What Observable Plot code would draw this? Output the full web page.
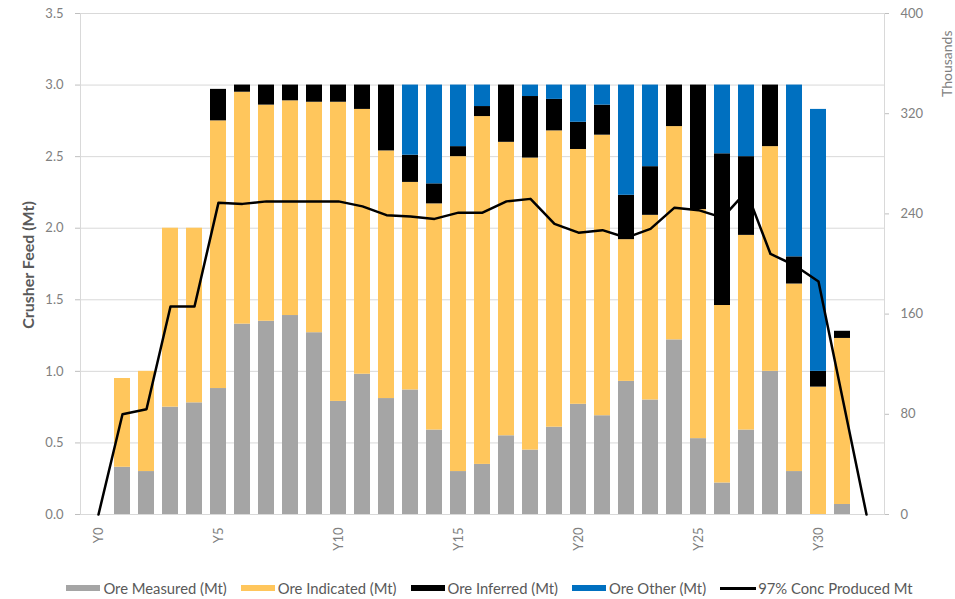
<!DOCTYPE html>
<html>
<head>
<meta charset="utf-8">
<script src="https://cdn.jsdelivr.net/npm/d3@7"></script>
<script src="https://cdn.jsdelivr.net/npm/@observablehq/plot@0.6"></script>
<style>
  body { margin: 0; background: #fff; font-family: Lato, "Open Sans", sans-serif; }
  #legend { display: flex; justify-content: center; align-items: center; height: 16px; margin-top: 20px; padding-left: 24px; font-size: 14.8px; color: #595959; }
  .item { display: flex; align-items: center; margin: 0 7px; white-space: nowrap; }
  .sw { width: 34px; height: 6px; margin-right: 3px; }
  .ln { width: 36px; height: 3px; background: #000; margin-right: 2px; }
</style>
</head>
<body>
<div id="chart"></div>
<div id="legend"></div>
<script>
// Years on the x axis (Y0 .. Y32)
const years = [0,1,2,3,4,5,6,7,8,9,10,11,12,13,14,15,16,17,18,19,20,21,22,23,24,25,26,27,28,29,30,31,32];
const xTickYears = [0,5,10,15,20,25,30];
// Years with bars (Y1 .. Y31)
const barYears = [1,2,3,4,5,6,7,8,9,10,11,12,13,14,15,16,17,18,19,20,21,22,23,24,25,26,27,28,29,30,31];

// Crusher feed by category (Mt)
const measured  = [0.33,0.30,0.75,0.78,0.88,1.33,1.35,1.39,1.27,0.79,0.98,0.81,0.87,0.59,0.30,0.35,0.55,0.45,0.61,0.77,0.69,0.93,0.80,1.22,0.53,0.22,0.59,1.00,0.30,0.00,0.07];
const indicated = [0.62,0.70,1.25,1.22,1.87,1.62,1.51,1.50,1.61,2.09,1.85,1.73,1.45,1.58,2.20,2.43,2.05,2.04,2.07,1.78,1.96,0.99,1.29,1.49,1.60,1.24,1.36,1.57,1.31,0.89,1.16];
const inferred  = [0.00,0.00,0.00,0.00,0.22,0.05,0.14,0.11,0.12,0.12,0.17,0.46,0.19,0.14,0.07,0.07,0.40,0.43,0.22,0.19,0.21,0.31,0.34,0.29,0.87,1.06,0.55,0.43,0.19,0.11,0.05];
const other     = [0.00,0.00,0.00,0.00,0.00,0.00,0.00,0.00,0.00,0.00,0.00,0.00,0.49,0.69,0.43,0.15,0.00,0.08,0.10,0.26,0.14,0.77,0.57,0.00,0.00,0.48,0.50,0.00,1.20,1.83,0.00];

// 97% concentrate produced (thousands of tonnes), Y0 .. Y32
const conc = [0,80,84,166,166,249,248,250,250,250,250,246,239,238,236,241,241,250,252,232,225,227,221,228,245,243,237,258,208,199,186,93,0];

const seriesNames = ["Ore Measured (Mt)", "Ore Indicated (Mt)", "Ore Inferred (Mt)", "Ore Other (Mt)"];
const seriesColors = ["#a5a5a5", "#ffc65c", "#000000", "#0070c0"];
const lineName = "97% Conc Produced Mt";

const leftTicks = [0, 0.5, 1, 1.5, 2, 2.5, 3, 3.5];
const rightTicks = [0, 80, 160, 240, 320, 400];
const leftMax = 3.5, rightMax = 400;
const k = leftMax / rightMax;

const rows = [];
[measured, indicated, inferred, other].forEach((arr, i) => {
  arr.forEach((v, j) => rows.push({year: barYears[j], series: seriesNames[i], value: v}));
});
const lineRows = years.map((y, i) => ({year: y, conc: conc[i]}));

const chart = Plot.plot({
  width: 955,
  height: 560,
  marginTop: 13,
  marginBottom: 46,
  marginLeft: 80,
  marginRight: 71,
  style: {fontFamily: "Lato, 'Open Sans', sans-serif", fontSize: "13px", background: "#fff"},
  x: {type: "band", domain: years, paddingInner: 0.34, paddingOuter: 0.17, axis: null},
  y: {domain: [0, leftMax], axis: null},
  color: {domain: seriesNames, range: seriesColors},
  marks: [
    Plot.gridY(leftTicks, {stroke: "#d9d9d9", strokeOpacity: 1}),
    Plot.frame({stroke: "#d9d9d9"}),
    Plot.barY(rows, {x: "year", y: "value", fill: "series"}),
    Plot.line(lineRows, {x: "year", y: d => d.conc * k, stroke: "#000", strokeWidth: 2.5}),
    Plot.axisY({anchor: "left", ticks: leftTicks, tickFormat: d => d.toFixed(1), tickSize: 5, tickPadding: 12, stroke: "#bfbfbf", fill: "#808080", label: null}),
    Plot.axisY({anchor: "right", ticks: rightTicks.map(t => t * k), tickFormat: d => String(Math.round(d / k)), tickSize: 4, tickPadding: 12, stroke: "#bfbfbf", fill: "#808080", label: null}),
    Plot.axisX({ticks: xTickYears, tickFormat: d => "Y" + d, tickRotate: -90, tickSize: 0, tickPadding: 13, fill: "#808080", label: null}),
    Plot.text(["Crusher Feed (Mt)"], {text: d => d, frameAnchor: "left", textAnchor: "middle", rotate: -90, dx: -52, dy: 1, fontSize: 16, fontWeight: "bold", fill: "#595959"}),
    Plot.text(["Thousands"], {text: d => d, frameAnchor: "top-right", rotate: -90, dx: 58, dy: 17, textAnchor: "end", fontSize: 14, fill: "#808080"})
  ]
});
document.getElementById("chart").appendChild(chart);

const legend = document.getElementById("legend");
seriesNames.forEach((name, i) => {
  const it = document.createElement("div");
  it.className = "item";
  const sw = document.createElement("span");
  sw.className = "sw";
  sw.style.background = seriesColors[i];
  it.appendChild(sw);
  it.appendChild(document.createTextNode(name));
  legend.appendChild(it);
});
const li = document.createElement("div");
li.className = "item";
const ln = document.createElement("span");
ln.className = "ln";
li.appendChild(ln);
li.appendChild(document.createTextNode(lineName));
legend.appendChild(li);
</script>
</body>
</html>
